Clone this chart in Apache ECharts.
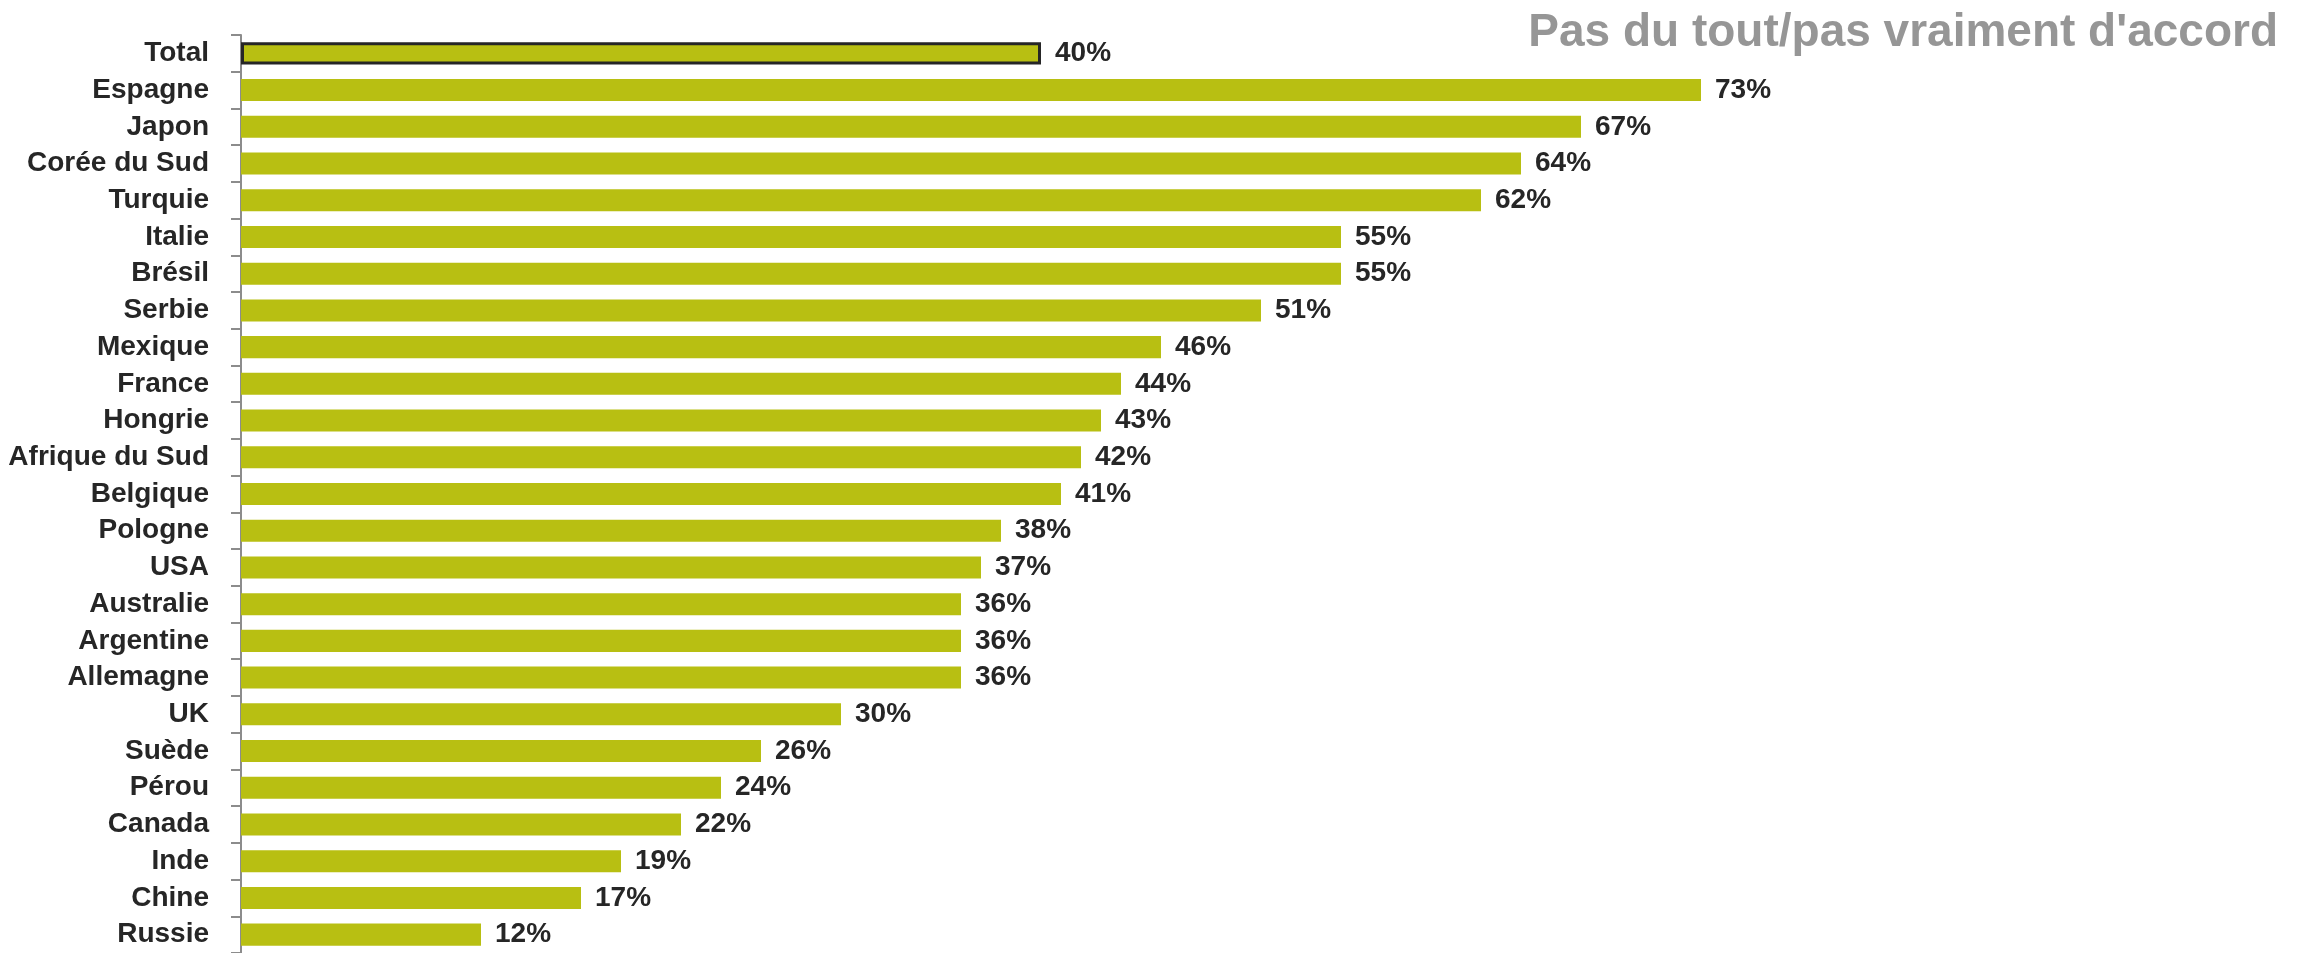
<!DOCTYPE html>
<html>
<head>
<meta charset="utf-8">
<script src="https://cdn.jsdelivr.net/npm/echarts@6/dist/echarts.min.js"></script>
<style>
  html, body { margin: 0; padding: 0; background: #fff; }
  #chart { width: 2312px; height: 953px; }
</style>
</head>
<body>
<div id="chart"></div>
<script>
// categories (top to bottom) and values in %
const countries = ['Total', 'Espagne', 'Japon', 'Corée du Sud', 'Turquie', 'Italie', 'Brésil', 'Serbie',
  'Mexique', 'France', 'Hongrie', 'Afrique du Sud', 'Belgique', 'Pologne', 'USA', 'Australie',
  'Argentine', 'Allemagne', 'UK', 'Suède', 'Pérou', 'Canada', 'Inde', 'Chine', 'Russie'];
const values = [40, 73, 67, 64, 62, 55, 55, 51, 46, 44, 43, 42, 41, 38, 37, 36, 36, 36, 30, 26, 24, 22, 19, 17, 12];
const titleText = "Pas du tout/pas vraiment d'accord";

const font = "'Liberation Sans Narrow', 'Liberation Sans', sans-serif";
const barColor = '#b8bf12';

const chart = echarts.init(document.getElementById('chart'));

const option = {
  animation: false,
  title: {
    text: titleText,
    right: 29,
    top: 5,
    textStyle: {
      color: '#969696',
      fontFamily: font,
      fontWeight: 'bold',
      fontSize: 46
    }
  },
  grid: {
    left: 241,
    top: 35,
    width: 2000,
    height: 918
  },
  xAxis: {
    type: 'value',
    min: 0,
    max: 100,
    show: false
  },
  yAxis: {
    type: 'category',
    inverse: true,
    data: countries,
    axisLine: { lineStyle: { color: '#8c8c8c', width: 2 } },
    axisTick: { show: true, length: 10, lineStyle: { color: '#8c8c8c', width: 2 } },
    axisLabel: {
      color: '#262626',
      fontFamily: font,
      fontWeight: 'bold',
      fontSize: 28,
      margin: 32
    }
  },
  series: [{
    type: 'bar',
    barCategoryGap: '40%',
    data: values.map((v, i) => ({
      value: v,
      itemStyle: i === 0 ? { borderColor: '#262626', borderWidth: 3 } : {}
    })),
    itemStyle: { color: barColor },
    label: {
      show: true,
      position: 'right',
      distance: 14,
      formatter: '{c}%',
      color: '#262626',
      fontFamily: font,
      fontWeight: 'bold',
      fontSize: 28
    }
  }]
};

chart.setOption(option);
</script>
</body>
</html>
